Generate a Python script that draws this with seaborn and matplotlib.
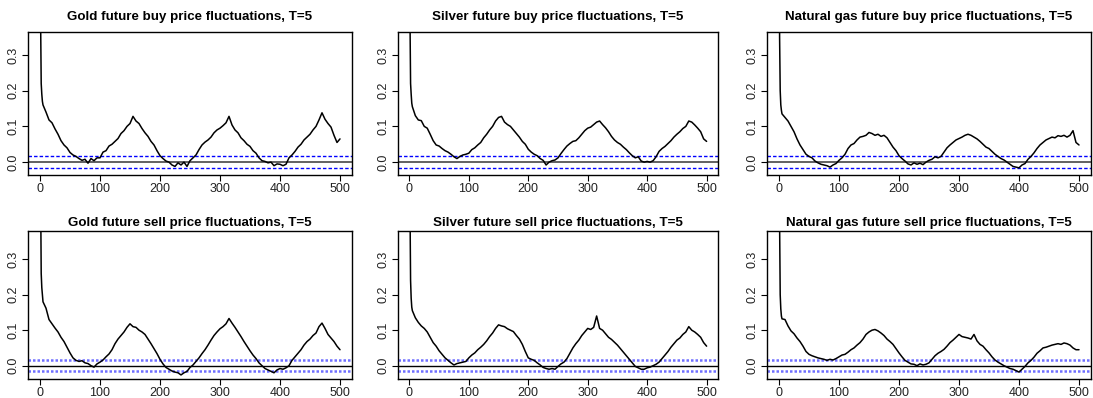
import numpy as np
import pandas as pd
import matplotlib
matplotlib.use("Agg")
import matplotlib.pyplot as plt
import seaborn as sns

# Lags at which the autocorrelation is tabulated
lags = [0, 1, 2, 3, 4] + list(range(5, 501, 5))

gold_buy = [1.0, 0.40, 0.22, 0.19, 0.17, 0.16,
            0.14, 0.118, 0.11, 0.093, 0.078, 0.06, 0.048, 0.04, 0.027, 0.02,
            0.016, 0.01, 0.005, 0.008, -0.003, 0.01, 0.004, 0.012, 0.012, 0.028,
            0.032, 0.045, 0.05, 0.058, 0.066, 0.08, 0.088, 0.1, 0.108, 0.128,
            0.115, 0.108, 0.094, 0.082, 0.072, 0.058, 0.048, 0.032, 0.018, 0.01,
            0.003, 0.0, -0.008, -0.012, -0.002, -0.008, 0.0, -0.012, 0.004, 0.012,
            0.02, 0.035, 0.048, 0.056, 0.062, 0.07, 0.082, 0.09, 0.095, 0.102,
            0.11, 0.128, 0.104, 0.09, 0.082, 0.068, 0.06, 0.05, 0.044, 0.032,
            0.025, 0.012, 0.004, 0.002, -0.002, 0.0, -0.01, -0.005, -0.006, -0.01,
            -0.006, 0.012, 0.02, 0.03, 0.042, 0.05, 0.062, 0.07, 0.078, 0.09,
            0.1, 0.118, 0.138, 0.12, 0.108, 0.098, 0.075, 0.055, 0.065]

silver_buy = [1.0, 0.40, 0.22, 0.19, 0.165, 0.155,
              0.13, 0.118, 0.116, 0.1, 0.095, 0.078, 0.06, 0.048, 0.045, 0.038,
              0.032, 0.028, 0.022, 0.015, 0.01, 0.016, 0.02, 0.022, 0.025, 0.035,
              0.04, 0.048, 0.055, 0.068, 0.078, 0.09, 0.1, 0.115, 0.125, 0.128,
              0.112, 0.105, 0.1, 0.09, 0.08, 0.07, 0.058, 0.05, 0.036, 0.028,
              0.022, 0.018, 0.01, 0.005, -0.008, 0.0, 0.004, 0.006, 0.012, 0.024,
              0.035, 0.045, 0.052, 0.058, 0.06, 0.068, 0.078, 0.088, 0.095, 0.098,
              0.105, 0.112, 0.115, 0.105, 0.096, 0.085, 0.072, 0.062, 0.055, 0.05,
              0.042, 0.035, 0.026, 0.018, 0.012, 0.015, 0.003, 0.0, 0.002, 0.0,
              0.004, 0.015, 0.03, 0.038, 0.044, 0.052, 0.06, 0.07, 0.078, 0.085,
              0.094, 0.1, 0.115, 0.112, 0.104, 0.095, 0.085, 0.065, 0.058]

gas_buy = [1.0, 0.35, 0.20, 0.16, 0.145, 0.135,
           0.125, 0.115, 0.1, 0.085, 0.065, 0.048, 0.035, 0.022, 0.016, 0.012,
           0.003, -0.002, -0.006, -0.008, -0.01, -0.014, -0.008, -0.004, 0.005, 0.012,
           0.022, 0.038, 0.048, 0.052, 0.062, 0.07, 0.072, 0.075, 0.083, 0.08,
           0.075, 0.078, 0.072, 0.075, 0.068, 0.055, 0.042, 0.032, 0.018, 0.01,
           0.003, -0.005, -0.008, -0.002, -0.006, -0.003, -0.007, 0.0, 0.005, 0.008,
           0.015, 0.012, 0.016, 0.028, 0.04, 0.048, 0.055, 0.062, 0.066, 0.07,
           0.075, 0.078, 0.075, 0.07, 0.065, 0.058, 0.05, 0.042, 0.038, 0.03,
           0.022, 0.016, 0.01, 0.006, 0.0, -0.006, -0.012, -0.014, -0.016, -0.008,
           -0.004, 0.008, 0.016, 0.026, 0.038, 0.048, 0.055, 0.062, 0.066, 0.07,
           0.068, 0.074, 0.072, 0.075, 0.07, 0.075, 0.088, 0.055, 0.048]

gold_sell = [1.0, 0.50, 0.26, 0.22, 0.20, 0.18,
             0.162, 0.13, 0.118, 0.106, 0.095, 0.08, 0.068, 0.052, 0.036, 0.022,
             0.015, 0.012, 0.014, 0.008, 0.006, 0.0, -0.004, 0.005, 0.01, 0.016,
             0.025, 0.033, 0.045, 0.062, 0.075, 0.085, 0.095, 0.108, 0.118, 0.11,
             0.108, 0.1, 0.095, 0.088, 0.075, 0.062, 0.048, 0.034, 0.018, 0.005,
             -0.005, -0.01, -0.015, -0.018, -0.02, -0.026, -0.02, -0.016, -0.005, 0.002,
             0.012, 0.022, 0.034, 0.045, 0.058, 0.072, 0.085, 0.095, 0.104, 0.11,
             0.118, 0.133, 0.12, 0.108, 0.095, 0.082, 0.068, 0.055, 0.042, 0.03,
             0.02, 0.008, 0.0, -0.008, -0.012, -0.016, -0.02, -0.012, -0.008, -0.01,
             -0.006, 0.0, 0.015, 0.025, 0.035, 0.045, 0.058, 0.068, 0.075, 0.085,
             0.092, 0.11, 0.12, 0.105, 0.088, 0.078, 0.068, 0.055, 0.045]

silver_sell = [1.0, 0.45, 0.24, 0.19, 0.165, 0.155,
               0.135, 0.122, 0.112, 0.105, 0.095, 0.08, 0.065, 0.055, 0.042, 0.032,
               0.022, 0.015, 0.008, 0.002, 0.006, 0.008, 0.01, 0.012, 0.022, 0.03,
               0.036, 0.045, 0.052, 0.06, 0.07, 0.082, 0.092, 0.105, 0.115, 0.112,
               0.11, 0.104, 0.1, 0.096, 0.085, 0.075, 0.06, 0.04, 0.022, 0.018,
               0.015, 0.008, 0.002, -0.005, -0.008, -0.01, -0.008, -0.01, -0.002, 0.005,
               0.01, 0.02, 0.035, 0.05, 0.062, 0.072, 0.085, 0.095, 0.105, 0.102,
               0.108, 0.14, 0.105, 0.1, 0.09, 0.08, 0.074, 0.066, 0.058, 0.048,
               0.038, 0.028, 0.018, 0.008, -0.002, -0.006, -0.01, -0.01, -0.006, -0.004,
               0.0, 0.004, 0.01, 0.02, 0.03, 0.04, 0.052, 0.062, 0.072, 0.078,
               0.088, 0.095, 0.11, 0.1, 0.095, 0.088, 0.08, 0.065, 0.055]

gas_sell = [1.0, 0.40, 0.20, 0.16, 0.14, 0.132,
            0.13, 0.112, 0.098, 0.09, 0.078, 0.068, 0.055, 0.04, 0.032, 0.028,
            0.025, 0.022, 0.02, 0.018, 0.015, 0.018, 0.016, 0.02, 0.025, 0.03,
            0.032, 0.038, 0.045, 0.05, 0.058, 0.065, 0.075, 0.088, 0.095, 0.1,
            0.102, 0.098, 0.092, 0.085, 0.075, 0.068, 0.06, 0.048, 0.036, 0.025,
            0.015, 0.01, 0.005, 0.004, 0.0, 0.005, 0.002, 0.004, 0.008, 0.018,
            0.028, 0.035, 0.04, 0.046, 0.055, 0.065, 0.072, 0.08, 0.088, 0.082,
            0.08, 0.078, 0.075, 0.088, 0.07, 0.06, 0.055, 0.045, 0.036, 0.025,
            0.016, 0.01, 0.005, 0.0, -0.004, -0.008, -0.01, -0.014, -0.018, -0.01,
            -0.002, 0.008, 0.015, 0.024, 0.035, 0.042, 0.05, 0.052, 0.055, 0.058,
            0.06, 0.062, 0.06, 0.064, 0.062, 0.058, 0.05, 0.045, 0.045]

titles = [
    "Gold future buy price fluctuations, T=5",
    "Silver future buy price fluctuations, T=5",
    "Natural gas future buy price fluctuations, T=5",
    "Gold future sell price fluctuations, T=5",
    "Silver future sell price fluctuations, T=5",
    "Natural gas future sell price fluctuations, T=5",
]
series = [gold_buy, silver_buy, gas_buy, gold_sell, silver_sell, gas_sell]
conf_bound = 0.016
x_ticks = [0, 100, 200, 300, 400, 500]
y_ticks = [0.0, 0.1, 0.2, 0.3]

sns.set_style("white")
plt.rcParams["font.family"] = ["Liberation Sans", "DejaVu Sans"]
plt.rcParams["text.color"] = "black"
plt.rcParams["xtick.color"] = "black"
plt.rcParams["ytick.color"] = "black"
plt.rcParams["axes.labelcolor"] = "black"

W, H = 1093, 398
fig = plt.figure(figsize=(W / 100, H / 100), dpi=100)

col_left = [28, 397.5, 767]
col_width = [324, 321, 324]
row_top = [32, 231.3]
row_bottom = [175, 379]
row_ylim = [(-0.036, 0.364), (-0.0375, 0.3786)]
row_title_pad = [8.5, 4.0]

for i, (title, vals) in enumerate(zip(titles, series)):
    r, c = divmod(i, 3)
    ax = fig.add_axes([col_left[c] / W, 1 - row_bottom[r] / H,
                       col_width[c] / W, (row_bottom[r] - row_top[r]) / H])
    df = pd.DataFrame({"lag": lags, "acf": vals})
    sns.lineplot(data=df, x="lag", y="acf", ax=ax, color="black",
                 linewidth=1.1, estimator=None)
    if r == 0:
        ax.axhline(0, color="#555555", linewidth=1.3, zorder=1)
        for b in (conf_bound, -conf_bound):
            ax.axhline(b, color="#0000ff", linewidth=1.0,
                       linestyle=(0, (2.5, 1.5)), zorder=1)
    else:
        ax.axhline(0, color="black", linewidth=1.0, zorder=1)
        for b in (conf_bound, -conf_bound):
            ax.axhline(b, color="#6f6fff", linewidth=1.8,
                       linestyle=(0, (1.0, 0.8)), zorder=1)
    ax.set_xlim(-20, 520)
    ax.set_ylim(*row_ylim[r])
    ax.set_xticks(x_ticks)
    ax.set_yticks(y_ticks)
    ax.set_xticklabels([str(t) for t in x_ticks])
    ax.set_yticklabels([f"{t:.1f}" for t in y_ticks], rotation=90, va="center")
    ax.tick_params(axis="both", which="major", direction="out", length=4,
                   width=0.8, color="black", labelcolor="#222222", labelsize=9,
                   pad=2, bottom=True, left=True)
    ax.set_xlabel("")
    ax.set_ylabel("")
    for sp in ax.spines.values():
        sp.set_visible(True)
        sp.set_color("black")
        sp.set_linewidth(1.0)
    ax.set_title(title, fontsize=9.6, fontweight="bold", color="black",
                 pad=row_title_pad[r])

fig.savefig("out.png", dpi=100)
